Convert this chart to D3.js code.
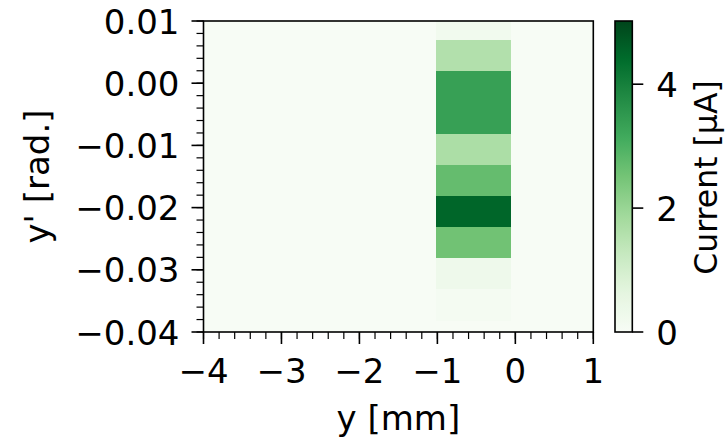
<!DOCTYPE html>
<html>
<head>
<meta charset="utf-8">
<script src="https://cdn.jsdelivr.net/npm/d3@7"></script>
<style>
  html, body { margin: 0; padding: 0; background: #ffffff; }
  svg text { font-family: "DejaVu Sans", sans-serif; fill: #000; }
</style>
</head>
<body>
<svg id="chart" width="725" height="438"></svg>
<script>
// ---- data ----
const xTicks = [-4, -3, -2, -1, 0, 1];
const yTicks = [0.01, 0.00, -0.01, -0.02, -0.03, -0.04];
const cbTicks = [0, 2, 4];
const xEdges = [-1.02, -0.055];                 // column of non-empty bins (mm)
const yEdges = [0.0119, 0.0069, 0.0019, -0.0031, -0.0081, -0.0131,
                -0.0181, -0.0231, -0.0281, -0.0331, -0.0381]; // rad.
const current = [0.2, 1.6, 3.35, 3.35, 1.7, 2.7, 4.5, 2.55, 0.3, 0.1]; // µA
const xDomain = [-4, 1];
const yDomain = [-0.04, 0.01];
const cDomain = [0, 5.02];

// matplotlib "Greens" (ColorBrewer, linear segments)
const greens = ["#f7fcf5","#e5f5e0","#c7e9c0","#a1d99b","#74c476","#41ab5d","#238b45","#006d2c","#00441b"];

const svg = d3.select("#chart");
const L = 203.5, R = 593.3, T = 21, B = 332;
const cbL = 615, cbR = 632.3;
const FS = 34;
const FS_CB = 31.5;

const x = d3.scaleLinear().domain(xDomain).range([L, R]);
const y = d3.scaleLinear().domain(yDomain).range([B, T]);
const cy = d3.scaleLinear().domain(cDomain).range([B, T]);
const tStops = greens.map((_, i) => i / (greens.length - 1));
const color = d3.scaleLinear()
  .domain(tStops.map(t => cDomain[0] + t * (cDomain[1] - cDomain[0])))
  .range(greens).interpolate(d3.interpolateRgb).clamp(true);

// clip
svg.append("defs").append("clipPath").attr("id", "plotclip")
  .append("rect").attr("x", L).attr("y", T).attr("width", R - L).attr("height", B - T);

const plot = svg.append("g").attr("clip-path", "url(#plotclip)");
// empty bins (value 0) fill the whole plane
plot.append("rect").attr("x", x(xDomain[0])).attr("y", y(yDomain[1]))
  .attr("width", x(xDomain[1]) - x(xDomain[0])).attr("height", y(yDomain[0]) - y(yDomain[1]))
  .attr("fill", color(0));

const cells = current.map((v, i) => ({ v, y0: yEdges[i], y1: yEdges[i + 1] }));
plot.selectAll("rect.cell").data(cells).enter().append("rect")
  .attr("class", "cell")
  .attr("shape-rendering", "crispEdges")
  .attr("x", x(xEdges[0]))
  .attr("width", x(xEdges[1]) - x(xEdges[0]))
  .attr("y", d => y(d.y0))
  .attr("height", d => y(d.y1) - y(d.y0) + 0.5)
  .attr("fill", d => color(d.v));

// axes
const fmtX = d => d3.format("d")(d).replace("-", "\u2212");
const fmtY = d => d3.format(".2f")(d).replace("-", "\u2212");

const xMinor = d3.range(xDomain[0], xDomain[1] + 1e-9, 0.2);
const yMinor = d3.range(-0.04, 0.01 + 1e-9, 0.002);

const gx = svg.append("g");
gx.selectAll("line.minor").data(xMinor).enter().append("line")
  .attr("x1", d => x(d)).attr("x2", d => x(d)).attr("y1", B).attr("y2", B + 7)
  .attr("stroke", "#000").attr("stroke-width", 1.2);
gx.selectAll("line.major").data(xTicks).enter().append("line")
  .attr("x1", d => x(d)).attr("x2", d => x(d)).attr("y1", B).attr("y2", B + 12)
  .attr("stroke", "#000").attr("stroke-width", 1.6);
gx.selectAll("text").data(xTicks).enter().append("text")
  .attr("x", d => x(d)).attr("y", B + 51).attr("text-anchor", "middle")
  .attr("font-size", FS).text(fmtX);

const gy = svg.append("g");
gy.selectAll("line.minor").data(yMinor).enter().append("line")
  .attr("x1", L - 7).attr("x2", L).attr("y1", d => y(d)).attr("y2", d => y(d))
  .attr("stroke", "#000").attr("stroke-width", 1.2);
gy.selectAll("line.major").data(yTicks).enter().append("line")
  .attr("x1", L - 12).attr("x2", L).attr("y1", d => y(d)).attr("y2", d => y(d))
  .attr("stroke", "#000").attr("stroke-width", 1.6);
gy.selectAll("text").data(yTicks).enter().append("text")
  .attr("x", L - 24).attr("y", d => y(d) + 12.5).attr("text-anchor", "end")
  .attr("font-size", FS).text(fmtY);

// frame
svg.append("rect").attr("x", L).attr("y", T).attr("width", R - L).attr("height", B - T)
  .attr("fill", "none").attr("stroke", "#000").attr("stroke-width", 1.6);

// labels
svg.append("text").attr("x", (L + R) / 2).attr("y", 430).attr("text-anchor", "middle")
  .attr("font-size", FS).text("y [mm]");
svg.append("text").attr("transform", `translate(49,${(T + B) / 2}) rotate(-90)`)
  .attr("text-anchor", "middle").attr("font-size", FS).text("y' [rad.]");

// colorbar
const grad = svg.select("defs").append("linearGradient").attr("id", "cbgrad")
  .attr("x1", 0).attr("y1", 1).attr("x2", 0).attr("y2", 0);
d3.range(0, 1.0001, 0.02).forEach(t => {
  grad.append("stop").attr("offset", t)
    .attr("stop-color", color(cDomain[0] + t * (cDomain[1] - cDomain[0])));
});
svg.append("rect").attr("x", cbL).attr("y", cy(cDomain[1]))
  .attr("width", cbR - cbL).attr("height", cy(cDomain[0]) - cy(cDomain[1]))
  .attr("fill", "url(#cbgrad)").attr("stroke", "#000").attr("stroke-width", 1.6);
const gc = svg.append("g");
gc.selectAll("line").data(cbTicks).enter().append("line")
  .attr("x1", cbR).attr("x2", cbR + 11).attr("y1", d => cy(d)).attr("y2", d => cy(d))
  .attr("stroke", "#000").attr("stroke-width", 1.6);
gc.selectAll("text").data(cbTicks).enter().append("text")
  .attr("x", cbR + 24).attr("y", d => cy(d) + 12.5).attr("text-anchor", "start")
  .attr("font-size", FS).text(d => d);
svg.append("text").attr("transform", `translate(717,${(T + B) / 2 + 1}) rotate(-90)`)
  .attr("text-anchor", "middle").attr("font-size", FS_CB).text("Current [\u03bcA]");
</script>
</body>
</html>
